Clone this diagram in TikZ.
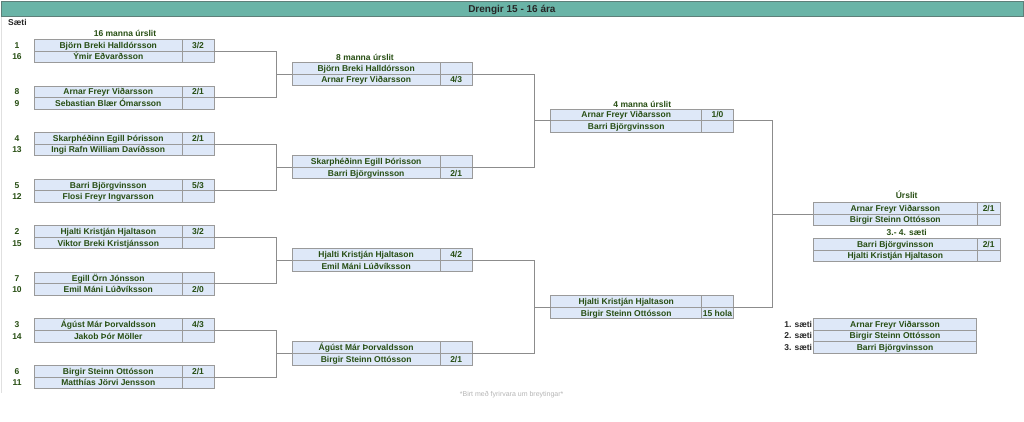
\documentclass[tikz,border=0pt]{standalone}
\usepackage{fontspec}
\setmainfont{Liberation Sans}
\definecolor{hdr}{HTML}{6AB4A7}
\definecolor{hdrline}{HTML}{5E7F79}
\definecolor{cellfill}{HTML}{DEE8F8}
\definecolor{dgreen}{HTML}{274E13}
\definecolor{cellline}{HTML}{9A9A9A}
\definecolor{connc}{HTML}{8C8C8C}
\definecolor{foot}{HTML}{B4B4B4}
\tikzset{
  cell/.style={draw=cellline, line width=0.7pt, fill=cellfill, minimum height=11.6pt,
    inner sep=0pt, outer sep=0pt, anchor=north west, text height=7.4pt, text depth=1pt,
    font=\bfseries\fontsize{8.5}{9}\selectfont, text=dgreen},
  conn/.style={draw=connc, line width=0.7pt},
  seed/.style={font=\bfseries\fontsize{8.5}{9}\selectfont, text=dgreen, inner sep=0pt, text height=7.4pt, text depth=1pt},
  rlabel/.style={font=\bfseries\fontsize{8.5}{9}\selectfont, text=dgreen, inner sep=0pt, text height=7.4pt, text depth=1pt},
  plabel/.style={font=\bfseries\fontsize{8.5}{9}\selectfont, text=black!85, inner sep=0pt, anchor=east, text height=7.4pt, text depth=1pt},
}
\newcommand\mtch[9]{%
  \node[cell, minimum width=#4pt] (#1a) at (#2,#3) {#6};
  \node[cell, minimum width=#5pt] (#1as) at (#1a.north east) {#7};
  \node[cell, minimum width=#4pt] (#1b) at (#1a.south west) {#8};
  \node[cell, minimum width=#5pt] (#1bs) at (#1b.north east) {#9};
}
\begin{document}
\begin{tikzpicture}[x=1pt,y=-1pt]
\useasboundingbox (0,0) rectangle (1024,422);
% header
\node[draw=hdrline, line width=0.8pt, fill=hdr, minimum width=1022pt, minimum height=15.5pt,
  inner sep=0pt, anchor=north west, text height=7.6pt, text depth=1.6pt,
  font=\bfseries\fontsize{10}{11}\selectfont, text=black!85]
  (header) at (0.5,1) {Drengir 15 - 16 ára};
\draw[black!12, line width=0.8pt] (header.south west) ++(0.5,0) -- ++(0,376);
\node[font=\bfseries\fontsize{8.5}{9}\selectfont, text=black!85, inner sep=0pt, anchor=west, text height=7.4pt, text depth=1pt] (saeti) at (8,22) {Sæti};

% round labels
\node[rlabel] (l16) at (125,33) {16 manna úrslit};
\node[rlabel] (l8) at (365,57.3) {8 manna úrslit};
\node[rlabel] (l4) at (642.3,104) {4 manna úrslit};
\node[rlabel] (lf) at (906.7,195.7) {Úrslit};
\node[rlabel] (l34) at (906.7,232.7) {3.- 4. sæti};

% round of 16
\mtch{m1}{34.5}{39.3}{147.5}{32}{Björn Breki Halldórsson}{3/2}{Ýmir Eðvarðsson}{}
\mtch{m2}{34.5}{85.9}{147.5}{32}{Arnar Freyr Viðarsson}{2/1}{Sebastian Blær Ómarsson}{}
\mtch{m3}{34.5}{132.4}{147.5}{32}{Skarphéðinn Egill Þórisson}{2/1}{Ingi Rafn William Davíðsson}{}
\mtch{m4}{34.5}{179.0}{147.5}{32}{Barri Björgvinsson}{5/3}{Flosi Freyr Ingvarsson}{}
\mtch{m5}{34.5}{225.6}{147.5}{32}{Hjalti Kristján Hjaltason}{3/2}{Viktor Breki Kristjánsson}{}
\mtch{m6}{34.5}{272.1}{147.5}{32}{Egill Örn Jónsson}{}{Emil Máni Lúðvíksson}{2/0}
\mtch{m7}{34.5}{318.7}{147.5}{32}{Ágúst Már Þorvaldsson}{4/3}{Jakob Þór Möller}{}
\mtch{m8}{34.5}{365.3}{147.5}{32}{Birgir Steinn Ottósson}{2/1}{Matthías Jörvi Jensson}{}

% seeds
\node[seed] (s1) at (17,45.1) {1};   \node[seed] (s16) at (17,56.7) {16};
\node[seed] (s8) at (17,91.7) {8};   \node[seed] (s9) at (17,103.3) {9};
\node[seed] (s4) at (17,138.2) {4};  \node[seed] (s13) at (17,149.8) {13};
\node[seed] (s5) at (17,184.8) {5};  \node[seed] (s12) at (17,196.4) {12};
\node[seed] (s2) at (17,231.4) {2};  \node[seed] (s15) at (17,243.0) {15};
\node[seed] (s7) at (17,277.9) {7};  \node[seed] (s10) at (17,289.5) {10};
\node[seed] (s3) at (17,324.5) {3};  \node[seed] (s14) at (17,336.1) {14};
\node[seed] (s6) at (17,371.1) {6};  \node[seed] (s11) at (17,382.7) {11};

% quarter finals
\mtch{q1}{292.3}{62.3}{147.7}{32.3}{Björn Breki Halldórsson}{}{Arnar Freyr Viðarsson}{4/3}
\mtch{q2}{292.3}{155.5}{147.7}{32.3}{Skarphéðinn Egill Þórisson}{}{Barri Björgvinsson}{2/1}
\mtch{q3}{292.3}{248.6}{147.7}{32.3}{Hjalti Kristján Hjaltason}{4/2}{Emil Máni Lúðvíksson}{}
\mtch{q4}{292.3}{341.7}{147.7}{32.3}{Ágúst Már Þorvaldsson}{}{Birgir Steinn Ottósson}{2/1}

% semi finals
\mtch{h1}{550.7}{109.0}{151}{31.6}{Arnar Freyr Viðarsson}{1/0}{Barri Björgvinsson}{}
\mtch{h2}{550.7}{295.4}{151}{31.6}{Hjalti Kristján Hjaltason}{}{Birgir Steinn Ottósson}{15 hola}

% final and 3rd place
\mtch{f1}{813.3}{202.3}{164}{22.7}{Arnar Freyr Viðarsson}{2/1}{Birgir Steinn Ottósson}{}
\mtch{f2}{813.3}{238.3}{164}{22.7}{Barri Björgvinsson}{2/1}{Hjalti Kristján Hjaltason}{}

% podium
\node[cell, minimum width=163.4pt] (p1) at (813.3,318.3) {Arnar Freyr Viðarsson};
\node[cell, minimum width=163.4pt] (p2) at (p1.south west) {Birgir Steinn Ottósson};
\node[cell, minimum width=163.4pt] (p3) at (p2.south west) {Barri Björgvinsson};
\node[plabel] (pl1) at ([xshift=-1pt]p1.west) {1. sæti};
\node[plabel] (pl2) at ([xshift=-1pt]p2.west) {2. sæti};
\node[plabel] (pl3) at ([xshift=-1pt]p3.west) {3. sæti};

% bracket columns
\coordinate (k1) at (276,0);
\coordinate (k2) at (534.3,0);
\coordinate (k3) at (772.3,0);

% connectors round 1 -> 2
\draw[conn] (m1as.south east) -- (m1as.south east -| k1) |- (m2as.south east);
\draw[conn] (q1a.south west) -- (q1a.south west -| k1);
\draw[conn] (m3as.south east) -- (m3as.south east -| k1) |- (m4as.south east);
\draw[conn] (q2a.south west) -- (q2a.south west -| k1);
\draw[conn] (m5as.south east) -- (m5as.south east -| k1) |- (m6as.south east);
\draw[conn] (q3a.south west) -- (q3a.south west -| k1);
\draw[conn] (m7as.south east) -- (m7as.south east -| k1) |- (m8as.south east);
\draw[conn] (q4a.south west) -- (q4a.south west -| k1);
% round 2 -> 3
\draw[conn] (q1as.south east) -- (q1as.south east -| k2) |- (q2as.south east);
\draw[conn] (h1a.south west) -- (h1a.south west -| k2);
\draw[conn] (q3as.south east) -- (q3as.south east -| k2) |- (q4as.south east);
\draw[conn] (h2a.south west) -- (h2a.south west -| k2);
% semis -> final
\draw[conn] (h1as.south east) -- (h1as.south east -| k3) |- (h2as.south east);
\draw[conn] (f1a.south west) -- (f1a.south west -| k3);

% footer
\node[font=\fontsize{7}{8}\selectfont, text=foot, inner sep=0pt] (footer) at (511.7,395) {*Birt með fyrirvara um breytingar*};
\end{tikzpicture}
\end{document}
